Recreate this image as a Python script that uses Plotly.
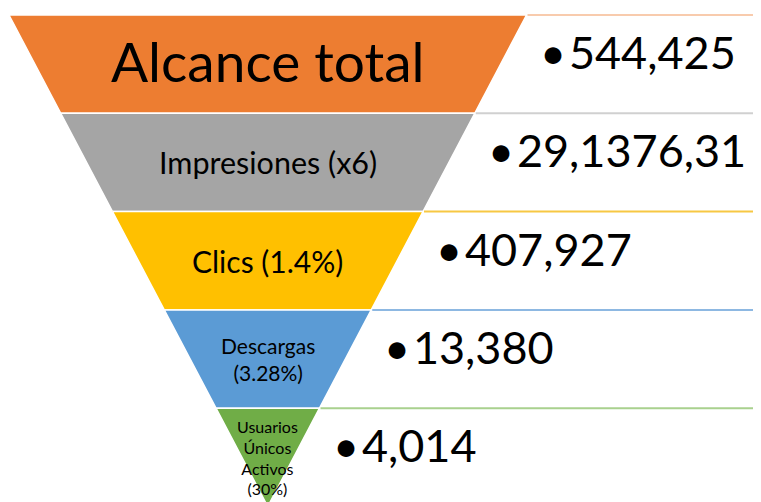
import plotly.graph_objects as go

stages = [
    'Alcance total',
    'Impresiones (x6)',
    'Clics (1.4%)',
    'Descargas<br>(3.28%)',
    'Usuarios<br>Únicos<br>Activos<br>(30%)',
]
values = ['544,425', '29,1376,31', '407,927', '13,380', '4,014']

_FILLS = ['#ED7D31', '#A5A5A5', '#FFC000', '#5B9BD5', '#70AD47']
_RULES = ['#F8CBAD', '#D0D0D0', '#F7C843', '#8DB8E2', '#A9D18E']
_LABEL_SIZES = [55, 30.5, 30, 21, 16]

# funnel geometry in page pixels (x right, y down)
W, H = 761, 502
PAD = 8  # default body margin of the html page
TOP_Y = 15
BAND_H = 98.3
LEFT_X, RIGHT_X = 9, 526.5
CX = (LEFT_X + RIGHT_X) / 2
APEX_Y = TOP_Y + len(stages) * BAND_H


def _half_width(y):
    return (RIGHT_X - LEFT_X) / 2 * (APEX_Y - y) / (APEX_Y - TOP_Y)


fig = go.Figure()
annotations = []
for i, (label, value) in enumerate(zip(stages, values)):
    y0 = TOP_Y + i * BAND_H
    y1 = y0 + BAND_H
    h0, h1 = _half_width(y0), _half_width(y1)
    fig.add_trace(go.Scatter(
        x=[CX - h0, CX + h0, CX + h1, CX - h1, CX - h0],
        y=[y0, y0, y1, y1, y0],
        mode='lines',
        fill='toself',
        fillcolor=_FILLS[i],
        line={'color': 'white', 'width': 1.5},
        hoverinfo='skip',
        showlegend=False,
    ))
    fig.add_trace(go.Scatter(
        x=[CX + h0 + 1, W + PAD],
        y=[y0, y0],
        mode='lines',
        line={'color': _RULES[i], 'width': 2},
        hoverinfo='skip',
        showlegend=False,
    ))
    mid = (y0 + y1) / 2
    annotations.append(dict(
        x=CX, y=mid - (3 if i == 0 else 0), text=label, showarrow=False,
        xanchor='center', yanchor='middle',
        font={'size': _LABEL_SIZES[i], 'color': 'black'},
    ))
    annotations.append(dict(
        x=CX + h0 + 11, y=mid - 12, text='•\u200a' + value, showarrow=False,
        xanchor='left', yanchor='middle',
        font={'size': 45, 'color': 'black'},
    ))

fig.update_layout(
    width=W,
    height=H,
    margin=dict(l=0, r=0, t=0, b=0),
    paper_bgcolor='white',
    plot_bgcolor='white',
    font={'family': 'Lato, Carlito, Calibri, sans-serif'},
    xaxis=dict(range=[PAD, W + PAD], visible=False, fixedrange=True),
    yaxis=dict(range=[H + PAD, PAD], visible=False, fixedrange=True),
    annotations=annotations,
)

fig.write_html('out.html')
